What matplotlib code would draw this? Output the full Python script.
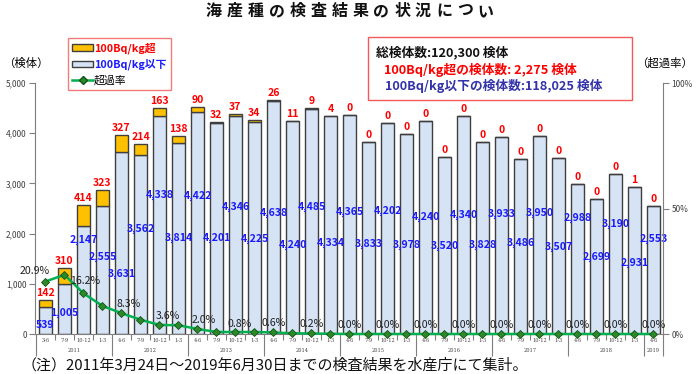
import matplotlib
matplotlib.use("Agg")
import matplotlib.pyplot as plt
from matplotlib.patches import Patch, Rectangle
from matplotlib.lines import Line2D
from matplotlib.transforms import blended_transform_factory

plt.rcParams['font.family'] = ['Noto Sans CJK JP', 'DejaVu Sans']

# ---------------- data ----------------
periods = ["3-6", "7-9", "10-12", "1-3",
           "4-6", "7-9", "10-12", "1-3",
           "4-6", "7-9", "10-12", "1-3",
           "4-6", "7-9", "10-12", "1-3",
           "4-6", "7-9", "10-12", "1-3",
           "4-6", "7-9", "10-12", "1-3",
           "4-6", "7-9", "10-12", "1-3",
           "4-6", "7-9", "10-12", "1-3",
           "4-6"]
years = ["2011", "2012", "2013", "2014", "2015", "2016", "2017", "2018", "2019"]
year_sizes = [4, 4, 4, 4, 4, 4, 4, 4, 1]

below = [539, 1005, 2147, 2555, 3631, 3562, 4338, 3814,
         4422, 4201, 4346, 4225, 4638, 4240, 4485, 4334,
         4365, 3833, 4202, 3978, 4240, 3520, 4340, 3828,
         3933, 3486, 3950, 3507, 2988, 2699, 3190, 2931,
         2553]
above = [142, 310, 414, 323, 327, 214, 163, 138,
         90, 32, 37, 34, 26, 11, 9, 4,
         0, 0, 0, 0, 0, 0, 0, 0,
         0, 0, 0, 0, 0, 0, 0, 1,
         0]
rate = [20.9, 23.6, 16.2, 11.2, 8.3, 5.7, 3.6, 3.5,
        2.0, 0.8, 0.8, 0.8, 0.6, 0.3, 0.2, 0.1,
        0.0, 0.0, 0.0, 0.0, 0.0, 0.0, 0.0, 0.0,
        0.0, 0.0, 0.0, 0.0, 0.0, 0.0, 0.0, 0.0,
        0.0]

title = "海産種の検査結果の状況につい"
info_lines = ["総検体数:120,300 検体",
              "100Bq/kg超の検体数: 2,275 検体",
              "100Bq/kg以下の検体数:118,025 検体"]
note = "（注）2011年3月24日～2019年6月30日までの検査結果を水産庁にて集計。"

# layout: vertical position (data units) of the in-bar labels
below_label_y = [180, 420, 1880, 1540, 1200, 2100, 2780, 1920,
                 2760, 1920, 2540, 1900, 2420, 1780, 2540, 1820,
                 2440, 1800, 2460, 1780, 2340, 1760, 2380, 1780,
                 2400, 1820, 2420, 1740, 2320, 1540, 2200, 1420,
                 1900]

# ---------------- figure ----------------
W, H = 700, 374
fig = plt.figure(figsize=(W / 100, H / 100), dpi=100)
ax = fig.add_axes([35 / W, 1 - 334 / H, (663 - 35) / W, (334 - 83) / H])
x = list(range(len(below)))

blue_fill = '#D5E3F5'
orange = '#FFC000'
edge = '#3F3F3F'
ax.bar(x, below, width=0.68, color=blue_fill, edgecolor=edge, linewidth=1.0, zorder=2)
ax.bar(x, above, bottom=below, width=0.68, color=orange, edgecolor=edge, linewidth=1.0, zorder=2)

ax.set_xlim(-0.55, 32.45)
ax.set_ylim(0, 5000)
ax.set_yticks([0, 1000, 2000, 3000, 4000, 5000])
ax.set_yticklabels(["0", "1,000", "2,000", "3,000", "4,000", "5,000"], fontsize=6, color='#404040')
ax.tick_params(axis='y', length=4, width=0.8, color='#808080', pad=2)
for s in ['top', 'right']:
    ax.spines[s].set_visible(False)
ax.spines['left'].set_color('#7F7F7F')
ax.spines['bottom'].set_color('#7F7F7F')

# x ticks: short ticks between bars, long ticks at year boundaries
bounds = [i - 0.5 for i in range(len(below) + 1)]
year_bounds = [-0.5]
for n in year_sizes:
    year_bounds.append(year_bounds[-1] + n)
ax.set_xticks(year_bounds)
ax.set_xticklabels([])
ax.set_xticks(bounds, minor=True)
ax.tick_params(axis='x', which='major', length=15.5, width=0.8, color='#7F7F7F')
ax.tick_params(axis='x', which='minor', length=4.5, width=0.8, color='#7F7F7F')

tr = blended_transform_factory(ax.transData, ax.transAxes)
for i, p in enumerate(periods):
    ax.text(i, -0.026, p, transform=tr, ha='center', va='center', fontsize=3.6,
            color='#404040', family=['DejaVu Serif'])
start = -0.5
for yname, n in zip(years, year_sizes):
    ax.text(start + n / 2, -0.064, yname, transform=tr, ha='center', va='center',
            fontsize=3.6, color='#404040', family=['DejaVu Serif'])
    start += n

# labels on bars
for i in x:
    ax.text(i, below_label_y[i], f"{below[i]:,}", ha='center', va='center',
            fontsize=7.6, fontweight='bold', color='#1A1AFF', zorder=5)
    ax.annotate(f"{above[i]:,}", (i, below[i] + above[i]), xytext=(0, 2),
                textcoords='offset pixels', ha='center', va='bottom',
                fontsize=7.6, fontweight='bold', color='#FF0000', zorder=5)

# secondary axis: rate
ax2 = ax.twinx()
ax2.set_ylim(0, 100)
ax2.set_yticks([0, 50, 100])
ax2.set_yticklabels(["0%", "50%", "100%"], fontsize=6, color='#404040')
ax2.tick_params(axis='y', length=4, width=0.8, color='#808080', pad=2)
for s in ['top', 'left', 'bottom']:
    ax2.spines[s].set_visible(False)
ax2.spines['right'].set_color('#7F7F7F')
ax2.plot(x, rate, color='#00B050', lw=1.8, marker='D', ms=4.5,
         mfc='#2A8A2A', mec='#145214', mew=0.6, zorder=4, clip_on=False)

special = {0: (-11, 11), 2: (2, 12), 4: (7, 9), 6: (8, 9), 8: (6, 9), 10: (4, 8)}
for i in range(0, len(rate), 2):
    dx, dy = special.get(i, (0, 9))
    ax2.annotate(f"{rate[i]:.1f}%", (i, rate[i]), xytext=(dx, dy),
                 textcoords='offset pixels', ha='center', va='center',
                 fontsize=7.6, color='#202020', zorder=6)

# title (spaced characters)
pitch = 20.9
for k, ch in enumerate(title):
    fig.text((214 + k * pitch) / W, 1 - 11 / H, ch, ha='center', va='center',
             fontsize=11.5, fontweight='bold', color='#111111')
fig.text(3 / W, 1 - 63 / H, "（検体）", ha='left', va='center', fontsize=8.2)
fig.text(636 / W, 1 - 63 / H, "（超過率）", ha='left', va='center', fontsize=8.2)

# legend
handles = [Patch(facecolor=orange, edgecolor=edge, linewidth=1.0),
           Patch(facecolor=blue_fill, edgecolor=edge, linewidth=1.0),
           Line2D([0], [0], color='#00B050', lw=1.8, marker='D', ms=4,
                  mfc='#2A8A2A', mec='#145214')]
leg = fig.legend(handles, ["100Bq/kg超", "100Bq/kg以下", "超過率"],
                 loc='upper left', bbox_to_anchor=(68 / W, 1 - 38 / H),
                 bbox_transform=fig.transFigure, fontsize=7.8, frameon=True,
                 fancybox=False, borderaxespad=0, handlelength=1.9,
                 handleheight=0.5, handletextpad=0.1, labelspacing=0.45,
                 borderpad=0.4)
leg.get_frame().set_edgecolor('#F05A5A')
leg.get_frame().set_linewidth(1.0)
for t, c in zip(leg.get_texts(), ['#FF0000', '#1A1AFF', '#000000']):
    t.set_color(c)
    if c != '#000000':
        t.set_fontweight('bold')

# info box
fig.add_artist(Rectangle((368 / W, 1 - 100 / H), (632 - 368) / W, 63 / H,
                         transform=fig.transFigure, fill=False,
                         edgecolor='#F05A5A', linewidth=1.0))
fig.text(376 / W, 1 - 53 / H, info_lines[0], ha='left', va='center', fontsize=9.2,
         fontweight='bold', color='#111111')
fig.text(384 / W, 1 - 70 / H, info_lines[1], ha='left', va='center', fontsize=9.2,
         fontweight='bold', color='#FF0000')
fig.text(385 / W, 1 - 86 / H, info_lines[2], ha='left', va='center', fontsize=9.2,
         fontweight='bold', color='#3333AA')

# footnote
fig.text(22 / W, 1 - 365 / H, note, ha='left', va='center', fontsize=10.8, color='#111111')

fig.savefig("out.png", dpi=100)
